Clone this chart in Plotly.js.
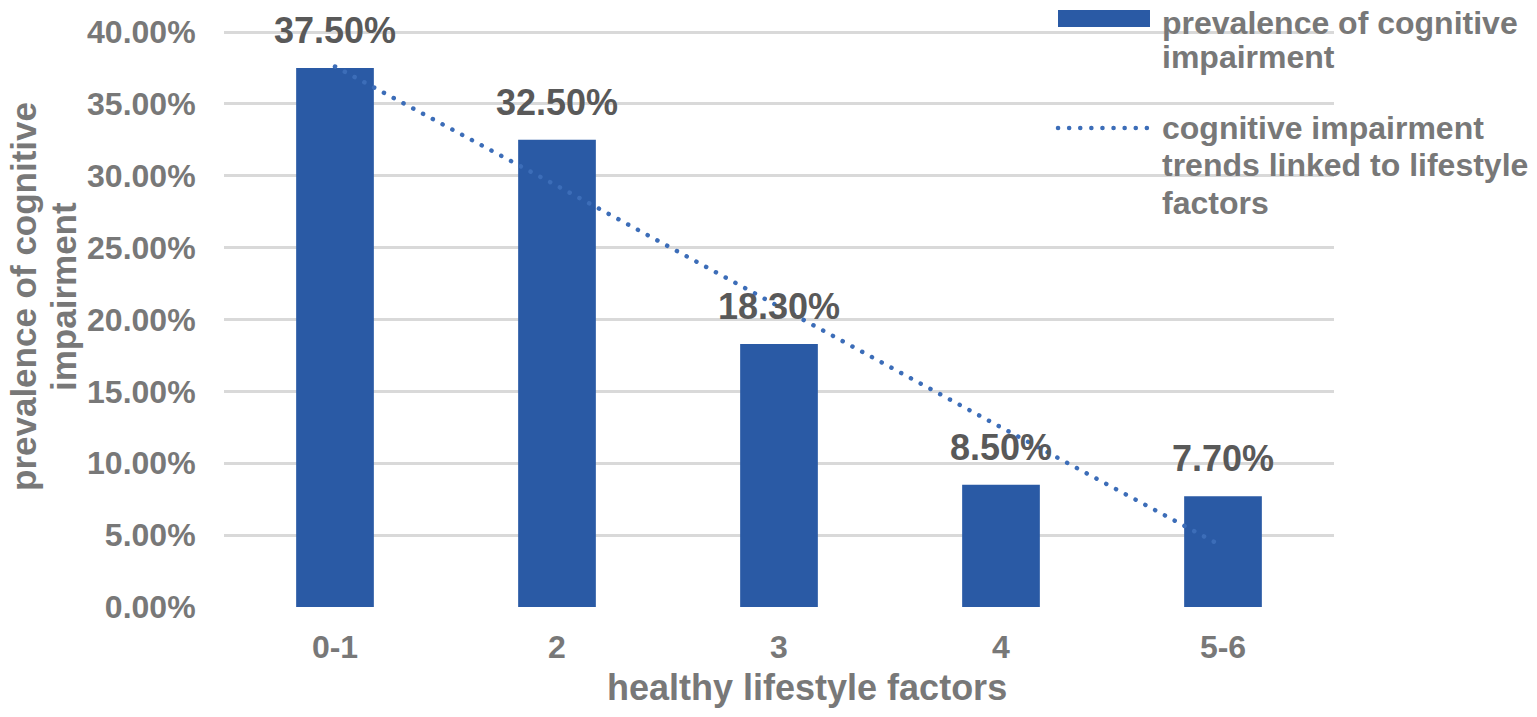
<!DOCTYPE html>
<html>
<head>
<meta charset="utf-8">
<script src="https://cdn.plot.ly/plotly-3.0.1.min.js"></script>
<style>
html,body{margin:0;padding:0;background:#fff;}
#chart{width:1537px;height:717px;}
.js-line{stroke-linecap:round;}
.shapelayer path{stroke-linecap:round;}
</style>
</head>
<body>
<div id="chart"></div>
<script>
const categories = ['0-1', '2', '3', '4', '5-6'];
const prevalence = [0.375, 0.325, 0.183, 0.085, 0.077];
const prevalenceLabels = ['37.50%', '32.50%', '18.30%', '8.50%', '7.70%'];
const trendValues = [0.376, 0.293, 0.209, 0.125, 0.042];
const yTickValues = [0, 0.05, 0.10, 0.15, 0.20, 0.25, 0.30, 0.35, 0.40];
const yTitleLines = ['prevalence of cognitive', 'impairment'];
const xTitle = 'healthy lifestyle factors';
const legendBarLines = ['prevalence of cognitive', 'impairment'];
const legendTrendLines = ['cognitive impairment', 'trends linked to lifestyle', 'factors'];

const FONT = 'Liberation Sans, Arial, sans-serif';
const GRAY = '#787878';
const DARK = '#595959';
const BLUE = '#2a5aa5';
const TREND = '#3c6db8';

// plot area in pixels (for placing non-data text)
const PL = 224, PR = 1334, PT = 31, PB = 607;
const px = x => (x - PL) / (PR - PL);
const py = y => (PB - y) / (PB - PT);

const bars = {
  type: 'bar', x: categories, y: prevalence,
  marker: {color: BLUE}, width: 0.35,
  hoverinfo: 'skip', showlegend: false
};
const trend = {
  type: 'scatter', mode: 'lines', x: categories, y: trendValues,
  line: {color: TREND, width: 4.5, dash: '0.1px,11px'},
  hoverinfo: 'skip', showlegend: false
};

const annotations = categories.map((c, i) => ({
  x: i, y: prevalence[i], xref: 'x', yref: 'y',
  text: prevalenceLabels[i], showarrow: false,
  yanchor: 'bottom', yshift: 15,
  font: {family: FONT, size: 36, color: DARK, weight: 700}
}));

const titleFont = {family: FONT, size: 35, color: GRAY, weight: 700};
const yTitleX = [23, 63];
yTitleLines.forEach((t, i) => annotations.push({
  xref: 'paper', yref: 'paper', x: px(yTitleX[i]), y: py(297),
  xanchor: 'center', yanchor: 'middle', textangle: -90,
  text: t, showarrow: false, font: titleFont
}));
annotations.push({
  xref: 'paper', yref: 'paper', x: px(807), y: py(687),
  xanchor: 'center', yanchor: 'middle',
  text: xTitle, showarrow: false,
  font: {family: FONT, size: 36, color: GRAY, weight: 700}
});

const legendFont = {family: FONT, size: 32, color: GRAY, weight: 700};
const legendBaselines = [[34, 68], [139, 176, 214]];
[legendBarLines, legendTrendLines].forEach((lines, g) => {
  lines.forEach((t, i) => annotations.push({
    xref: 'paper', yref: 'paper', x: px(1160), y: py(legendBaselines[g][i] + 9),
    xanchor: 'left', yanchor: 'bottom', align: 'left',
    text: t, showarrow: false, font: legendFont
  }));
});

const shapes = [
  {type: 'rect', xref: 'paper', yref: 'paper',
   x0: px(1058), x1: px(1150), y0: py(27), y1: py(10),
   fillcolor: BLUE, line: {width: 0}},
  {type: 'line', xref: 'paper', yref: 'paper',
   x0: px(1058), x1: px(1148), y0: py(128), y1: py(128),
   line: {color: TREND, width: 4.5, dash: '0.1px,11px'}}
];

const layout = {
  width: 1537, height: 717,
  margin: {l: PL, r: 1537 - PR, t: PT, b: 717 - PB},
  paper_bgcolor: '#fff', plot_bgcolor: '#fff',
  font: {family: FONT, color: GRAY, size: 32, weight: 700},
  xaxis: {
    type: 'category', showgrid: false, zeroline: false,
    showline: false, ticks: 'outside', ticklen: 12, tickcolor: 'rgba(0,0,0,0)',
    tickfont: {family: FONT, size: 32, color: GRAY, weight: 700}
  },
  yaxis: {
    range: [0, 0.4007], tickvals: yTickValues, tickformat: '.2%',
    showgrid: true, gridcolor: '#d9d9d9', gridwidth: 3,
    zeroline: false, showline: false,
    ticks: 'outside', ticklen: 21, tickcolor: 'rgba(0,0,0,0)',
    tickfont: {family: FONT, size: 32, color: GRAY, weight: 700}
  },
  annotations: annotations,
  shapes: shapes,
  showlegend: false
};

Plotly.newPlot('chart', [bars, trend], layout, {displayModeBar: false, staticPlot: true});
</script>
</body>
</html>
